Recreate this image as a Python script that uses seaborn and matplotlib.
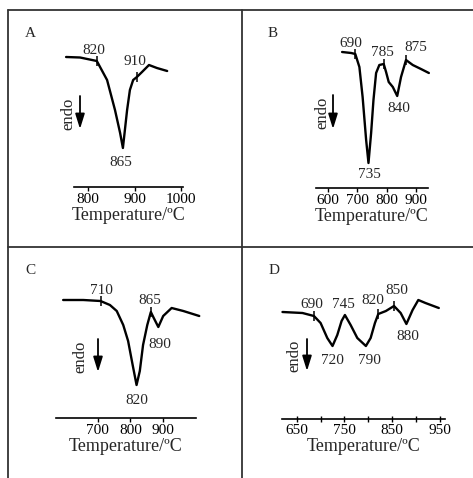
import numpy as np
import matplotlib
matplotlib.use("Agg")
import matplotlib.pyplot as plt
import seaborn as sns

sns.set_style("white")
plt.rcParams['font.family'] = ['Liberation Serif', 'DejaVu Serif']

# DTA curves: temperature (C) vs signal (arbitrary units, endo is down)
a_temp = [753, 783, 819, 841, 858, 869, 875, 884, 890, 897, 905, 916, 931, 948, 970]
a_dta = [0, -0.5, -4, -23, -53, -76, -91, -53, -33, -23, -20, -15, -8, -11, -14]
a_marks = [819, 905]

b_temp = [648, 679, 693, 707, 718, 730, 738, 747, 755, 764, 775, 790, 798, 807, 821,
          836, 849, 866, 889, 917, 944]
b_dta = [0, -1, -2, -15, -45, -88, -111, -81, -48, -21, -13, -12, -20, -30, -35,
         -44, -25, -8, -13, -17, -21]
b_marks = [693, 790, 866]

c_temp = [593, 655, 708, 737, 758, 778, 793, 807, 819, 829, 839, 852, 863, 872, 886,
          901, 927, 963, 1012]
c_dta = [0, 0, -1, -5, -11, -25, -41, -65, -85, -71, -45, -25, -12, -18, -27,
         -16, -8, -11, -16]
c_marks = [708, 863]

d_temp = [620, 662, 686, 700, 714, 725, 735, 744, 751, 763, 777, 795, 805, 814, 821,
          837, 854, 868, 880, 893, 905, 920, 948]
d_dta = [0, -1, -4, -11, -26, -34, -23, -9, -3, -13, -26, -34, -26, -11, -2,
         1, 6, -1, -12, 2, 12, 9, 4]
d_marks = [686, 821, 854]

a_ticks = [800, 900, 1000]
b_ticks = [600, 700, 800, 900]
c_ticks = [700, 800, 900]
d_ticks = [650, 750, 850, 950]
d_minor = [700, 800, 900]

W, H = 473, 478
fig = plt.figure(figsize=(W / 100, H / 100), dpi=100)


def box(x0, y0, x1, y1):
    return [x0 / W, 1 - y1 / H, (x1 - x0) / W, (y1 - y0) / H]


def panel(rect, xlim, ylim, temp, dta, marks, ticks, direction='out'):
    ax = fig.add_axes(box(*rect))
    sns.lineplot(x=temp, y=dta, ax=ax, color='black', linewidth=1.7, clip_on=False)
    ax.plot(marks, np.interp(marks, temp, dta), linestyle='none', marker='|',
            markersize=7, markeredgewidth=1.1, color='black', clip_on=False)
    ax.set_xlim(*xlim)
    ax.set_ylim(*ylim)
    for s in ['left', 'right', 'top']:
        ax.spines[s].set_visible(False)
    ax.spines['bottom'].set_color('black')
    ax.spines['bottom'].set_linewidth(1.2)
    ax.set_yticks([])
    ax.set_xticks(ticks)
    ax.tick_params(axis='x', which='both', direction=direction, length=3, width=1,
                   labelsize=11, pad=1, colors='black', bottom=True)
    ax.set_xlabel('Temperature/ºC', fontsize=13, labelpad=1)
    ax.set_ylabel('')
    ax.patch.set_alpha(0)
    return ax


panel((74, 30, 183, 187), (770, 1004), (-130, 27), a_temp, a_dta, a_marks, a_ticks)
panel((316, 30, 428, 188), (559, 941), (-136, 22), b_temp, b_dta, b_marks, b_ticks)
panel((56, 270, 196, 418), (571, 1002), (-118, 30), c_temp, c_dta, c_marks, c_ticks)
axd = panel((282, 270, 445, 419), (619, 961), (-107, 42), d_temp, d_dta, d_marks,
            d_ticks, direction='inout')
axd.set_xticks(d_minor, minor=True)
axd.tick_params(axis='x', which='both', length=5)

# overlay for frame lines, labels and endo arrows
ov = fig.add_axes([0, 0, 1, 1], zorder=-1)
ov.set_xlim(0, W)
ov.set_ylim(H, 0)
ov.axis('off')
frame = dict(color='#333333', linewidth=1.3)
ov.plot([8, W], [10, 10], **frame)
ov.plot([8, 8], [10, H], **frame)
ov.plot([242, 242], [10, H], **frame)
ov.plot([8, W], [247, 247], **frame)

labels = [('A', 30, 33), ('B', 273, 33), ('C', 30, 271), ('D', 274, 271),
          ('820', 94, 50), ('910', 135, 61), ('865', 121, 163),
          ('690', 351, 43), ('785', 382, 52), ('875', 416, 47), ('840', 399, 108),
          ('735', 369, 174),
          ('710', 101, 290), ('865', 150, 300), ('890', 160, 344), ('820', 137, 400),
          ('690', 312, 305), ('745', 343, 305), ('820', 373, 301), ('850', 397, 291),
          ('880', 408, 337), ('720', 332, 361), ('790', 369, 361)]
for s, x, y in labels:
    ov.text(x, y, s, ha='center', va='center', fontsize=11)

for tx, ax_x, y0, y1 in [(68, 80, 96, 129), (322, 333, 95, 129),
                         (80, 98, 339, 372), (294, 307, 339, 371)]:
    ov.text(tx, (y0 + y1) / 2 + 1, 'endo', rotation=90, ha='center', va='center',
            fontsize=12)
    ov.annotate('', xy=(ax_x, y1), xytext=(ax_x, y0),
                arrowprops=dict(arrowstyle='-|>,head_length=0.9,head_width=0.28',
                                color='black', lw=1.3, mutation_scale=10,
                                shrinkA=0, shrinkB=0))

fig.savefig('out.png', dpi=100)
